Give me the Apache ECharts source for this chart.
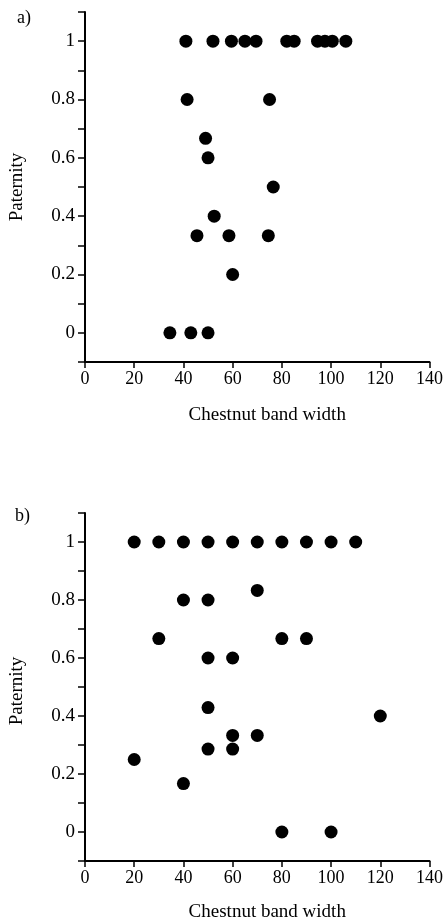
<!DOCTYPE html>
<html>
<head>
<meta charset="utf-8">
<script src="https://cdn.jsdelivr.net/npm/echarts@6/dist/echarts.min.js"></script>
<style>
html,body{margin:0;padding:0;background:#fff;}
#c{width:446px;height:923px;}
</style>
</head>
<body>
<div id="c"></div>
<script>
// Panel a) data
const aWidth = [41, 52, 59.5, 65, 69.5, 82, 85, 94.5, 97.5, 100.5, 106,
                41.5, 75,
                49, 50, 76.5, 52.5, 45.5, 58.5, 74.5, 60,
                34.5, 43, 50];
const aPaternity = [1, 1, 1, 1, 1, 1, 1, 1, 1, 1, 1,
                    0.8, 0.8,
                    0.667, 0.6, 0.5, 0.4, 0.333, 0.333, 0.333, 0.2,
                    0, 0, 0];
// Panel b) data
const bWidth = [20, 30, 40, 50, 60, 70, 80, 90, 100, 110,
                70, 40, 50,
                30, 80, 90,
                50, 60,
                50, 120,
                60, 70,
                50, 60,
                20, 40,
                80, 100];
const bPaternity = [1, 1, 1, 1, 1, 1, 1, 1, 1, 1,
                    0.833, 0.8, 0.8,
                    0.667, 0.667, 0.667,
                    0.6, 0.6,
                    0.429, 0.4,
                    0.333, 0.333,
                    0.286, 0.286,
                    0.25, 0.167,
                    0, 0];
const xTicks = [0, 20, 40, 60, 80, 100, 120, 140];
const yLabels = ['0', '0.2', '0.4', '0.6', '0.8', '1'];
const panelLabels = ['a)', 'b)'];
const xTitle = 'Chestnut band width';
const yTitle = 'Paternity';

const FONT = 'Liberation Serif';
const chart = echarts.init(document.getElementById('c'), null, {renderer: 'canvas'});

function pair(xs, ys) { return xs.map((x, i) => [x, ys[i]]); }

function xAxis(gi, gap) {
  return {
    type: 'value', gridIndex: gi, min: xTicks[0], max: xTicks[xTicks.length - 1], interval: 20,
    axisLine: {show: true, onZero: false, lineStyle: {color: '#000', width: 2}},
    axisTick: {show: true, length: 6, lineStyle: {color: '#000', width: 1.5}},
    axisLabel: {color: '#000', fontFamily: FONT, fontSize: 18, margin: 8},
    splitLine: {show: false},
    name: xTitle, nameLocation: 'middle', nameGap: gap,
    nameTextStyle: {color: '#000', fontFamily: FONT, fontSize: 19, padding: [0, 0, 0, 20]}
  };
}
function yAxis(gi, pad) {
  return {
    type: 'value', gridIndex: gi, min: -0.1, max: 1.1, interval: 0.1,
    axisLine: {show: true, onZero: false, lineStyle: {color: '#000', width: 2}},
    axisTick: {show: true, length: 7, lineStyle: {color: '#000', width: 1.5}},
    axisLabel: {
      color: '#000', fontFamily: FONT, fontSize: 19, margin: 10,
      formatter: function (v) {
        const r = Math.round(v * 10);
        if (r >= 0 && r <= 10 && r % 2 === 0) return yLabels[r / 2];
        return '';
      }
    },
    splitLine: {show: false},
    name: yTitle, nameLocation: 'middle', nameGap: 58, nameRotate: 90,
    nameTextStyle: {color: '#000', fontFamily: FONT, fontSize: 19, padding: pad}
  };
}

const option = {
  backgroundColor: '#fff',
  animation: false,
  textStyle: {fontFamily: FONT},
  grid: [
    {left: 85, top: 12, width: 346, height: 350},
    {left: 85, top: 513, width: 346, height: 349}
  ],
  xAxis: [xAxis(0, 44), xAxis(1, 42)],
  yAxis: [yAxis(0, [0, 0, 0, 0]), yAxis(1, [0, 8, 0, 0])],
  graphic: [
    {type: 'text', left: 17, top: 9, style: {text: panelLabels[0], font: '18px "Liberation Serif"', fill: '#000'}},
    {type: 'text', left: 15, top: 507, style: {text: panelLabels[1], font: '18px "Liberation Serif"', fill: '#000'}}
  ],
  series: [
    {type: 'scatter', xAxisIndex: 0, yAxisIndex: 0, data: pair(aWidth, aPaternity),
     symbol: 'circle', symbolSize: 13, itemStyle: {color: '#000', opacity: 1}},
    {type: 'scatter', xAxisIndex: 1, yAxisIndex: 1, data: pair(bWidth, bPaternity),
     symbol: 'circle', symbolSize: 13, itemStyle: {color: '#000', opacity: 1}}
  ]
};
chart.setOption(option);
</script>
</body>
</html>
